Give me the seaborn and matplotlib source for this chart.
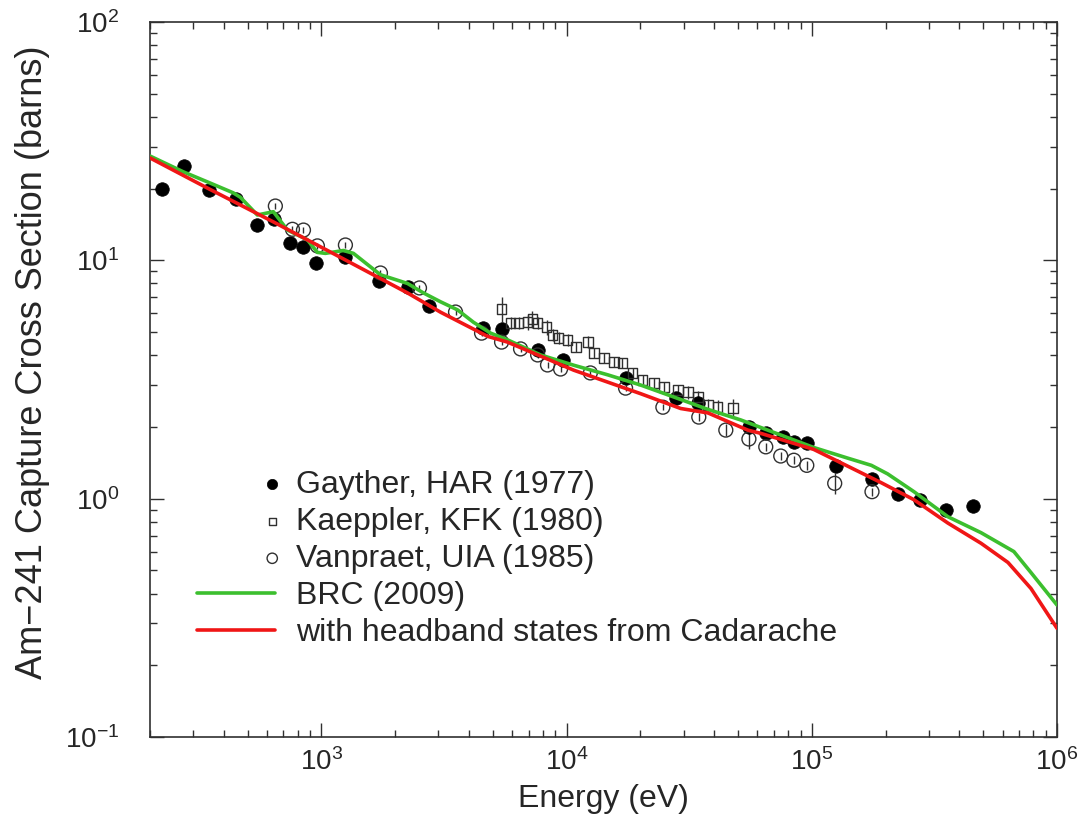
import numpy as np
import pandas as pd
import matplotlib
matplotlib.use("Agg")
import matplotlib.pyplot as plt
import seaborn as sns
from matplotlib.legend_handler import HandlerPathCollection

# Gayther, HAR (1977)
gayther_e = [224, 274, 349, 450, 548, 643, 747, 845, 954, 1253, 1725, 2245, 2735,
             4540, 5430, 7620, 9640, 17400, 27900, 34300, 55400, 64900, 76200,
             84500, 95400, 125000, 176000, 224000, 276000, 352000, 454000]
gayther_s = [19.9, 24.9, 19.7, 18.1, 14.1, 14.9, 11.8, 11.4, 9.75, 10.3, 8.19, 7.73, 6.43,
             5.20, 5.15, 4.21, 3.82, 3.21, 2.64, 2.52, 2.00, 1.88, 1.81,
             1.73, 1.71, 1.37, 1.21, 1.05, 0.99, 0.90, 0.93]

# Kaeppler, KFK (1980) with relative errors (%)
kaeppler_e = [5430, 5910, 6370, 6930, 7260, 7620, 8290, 8770, 9270, 10090, 10900, 12200,
              12900, 14200, 15600, 16900, 18600, 20400, 22700, 24900, 28400, 31200,
              34300, 37700, 41300, 47600]
kaeppler_s = [6.25, 5.46, 5.46, 5.51, 5.68, 5.46, 5.25, 4.86, 4.72, 4.63, 4.33, 4.54,
              4.08, 3.89, 3.74, 3.71, 3.37, 3.15, 3.05, 2.94, 2.85, 2.80,
              2.67, 2.47, 2.42, 2.40]
kaeppler_err = [12, 6, 6, 7, 8, 6, 7, 6, 6, 6, 5, 6,
                5, 5, 5, 5, 5, 5, 5, 5, 5, 6, 6, 6, 7, 9]

# Vanpraet, UIA (1985) with relative errors (%)
vanpraet_e = [649, 762, 845, 963, 1253, 1741, 2512, 3524, 4500, 5430, 6490, 7620, 8360,
              9450, 12500, 17400, 24700, 34600, 44600, 55400, 64900, 74700, 84500,
              95400, 124000, 176000]
vanpraet_s = [16.9, 13.5, 13.4, 11.5, 11.6, 8.85, 7.66, 6.07, 4.95, 4.54, 4.25, 4.01, 3.64,
              3.50, 3.37, 2.91, 2.42, 2.20, 1.94, 1.78, 1.65, 1.51, 1.45,
              1.38, 1.16, 1.07]
vanpraet_err = [3, 3, 3, 3, 3, 3, 3, 3, 3, 3, 3, 3, 3,
                3, 3, 3, 3, 4, 6, 9, 4, 4, 4, 4, 10, 4]

# BRC (2009) evaluation
brc_e = [200, 274, 352, 437, 467, 548, 637, 727, 877, 963, 1038, 1230, 1351, 1741, 2245,
         2607, 3062, 3590, 4170, 4900, 5740, 7830, 10700, 14700, 20000, 27400, 37700,
         51300, 74700, 101800, 140000, 175000, 204000, 261000, 359000, 490000, 667000,
         783000, 1000000]
brc_s = [27.4, 23.5, 21.1, 19.2, 18.4, 15.5, 16.0, 13.4, 12.2, 10.8, 10.7, 11.0, 10.7, 8.7, 8.0,
         7.3, 6.7, 6.2, 5.5, 4.95, 4.64, 4.01, 3.63, 3.31, 3.0, 2.67, 2.37,
         2.14, 1.85, 1.64, 1.48, 1.38, 1.27, 1.07, 0.84, 0.72, 0.60,
         0.49, 0.358]

# with headband states from Cadarache
cad_e = [200, 343, 637, 1195, 2245, 3062, 4760, 5740, 10700, 20000, 29200, 37700, 54800,
         61900, 101800, 191000, 261000, 359000, 490000, 631000, 783000, 1000000]
cad_s = [26.9, 20.1, 14.5, 10.3, 7.3, 6.06, 4.8, 4.54, 3.46, 2.76, 2.39, 2.29, 1.94,
         1.88, 1.61, 1.17, 0.99, 0.79, 0.65, 0.54, 0.42, 0.286]


class MarkerAtEnd(HandlerPathCollection):
    # gnuplot-style key: point sits at the right end of the sample
    def get_xdata(self, legend, xdescent, ydescent, width, height, fontsize):
        xdata, _ = super().get_xdata(legend, xdescent, ydescent, width, height, fontsize)
        return xdata, [-xdescent + width - 0.1 * fontsize]


sns.set_theme(style="ticks")
plt.rcParams["font.family"] = ["Liberation Sans", "DejaVu Sans"]

fig, ax = plt.subplots(figsize=(10.8, 8.16), dpi=100)
fig.subplots_adjust(left=0.1389, right=0.9787, bottom=0.0968, top=0.9730)
ax.set_xscale("log")
ax.set_yscale("log")

ink = "#303030"

k_err = np.array(kaeppler_s) * np.array(kaeppler_err) / 100
v_err = np.array(vanpraet_s) * np.array(vanpraet_err) / 100
ax.errorbar(kaeppler_e, kaeppler_s, yerr=k_err, fmt="none", ecolor=ink, elinewidth=1, zorder=1)
ax.errorbar(vanpraet_e, vanpraet_s, yerr=v_err, fmt="none", ecolor=ink, elinewidth=1, zorder=1)

sns.scatterplot(x=gayther_e, y=gayther_s, ax=ax, marker="o", s=95, color="black",
                edgecolor="black", linewidth=0.5, label="Gayther, HAR (1977)", zorder=2)
sns.scatterplot(x=kaeppler_e, y=kaeppler_s, ax=ax, marker="s", s=48, facecolor="none",
                edgecolor=ink, linewidth=1, label="Kaeppler, KFK (1980)", zorder=2)
sns.scatterplot(x=vanpraet_e, y=vanpraet_s, ax=ax, marker="o", s=100, facecolor="none",
                edgecolor=ink, linewidth=1, label="Vanpraet, UIA (1985)", zorder=2)

sns.lineplot(x=brc_e, y=brc_s, ax=ax, color="#3cbf2e", lw=2.6, sort=False,
             estimator=None, label="BRC (2009)", zorder=3)
sns.lineplot(x=cad_e, y=cad_s, ax=ax, color="#f01616", lw=2.6, sort=False,
             estimator=None, label="with headband states from Cadarache", zorder=3)

ax.set_xlim(200, 1e6)
ax.set_ylim(0.1, 100)
ax.set_xlabel("Energy (eV)", fontsize=23, labelpad=6)
ax.set_ylabel("Am\u2212241 Capture Cross Section (barns)", fontsize=26)
ax.yaxis.set_label_coords(-0.110, 0.524)

ax.tick_params(which="both", direction="in", top=True, right=True, color=ink, width=1)
ax.tick_params(which="major", length=10, labelsize=20, pad=8)
ax.tick_params(which="minor", length=5)
ax.tick_params(axis="y", which="major", pad=22)
for sp in ax.spines.values():
    sp.set_color(ink)
    sp.set_linewidth(1.2)

handles, labels = ax.get_legend_handles_labels()
hmap = {handles[0]: MarkerAtEnd(sizes=[55]),
        handles[1]: MarkerAtEnd(sizes=[28]),
        handles[2]: MarkerAtEnd(sizes=[55])}
ax.legend(handles, labels, handler_map=hmap, loc="upper left",
          bbox_to_anchor=(0.052, 0.374), frameon=False, fontsize=23,
          handlelength=2.45, handletextpad=0.63, labelspacing=0.22,
          borderpad=0, borderaxespad=0, scatterpoints=1)

fig.savefig("out.png", dpi=100)
